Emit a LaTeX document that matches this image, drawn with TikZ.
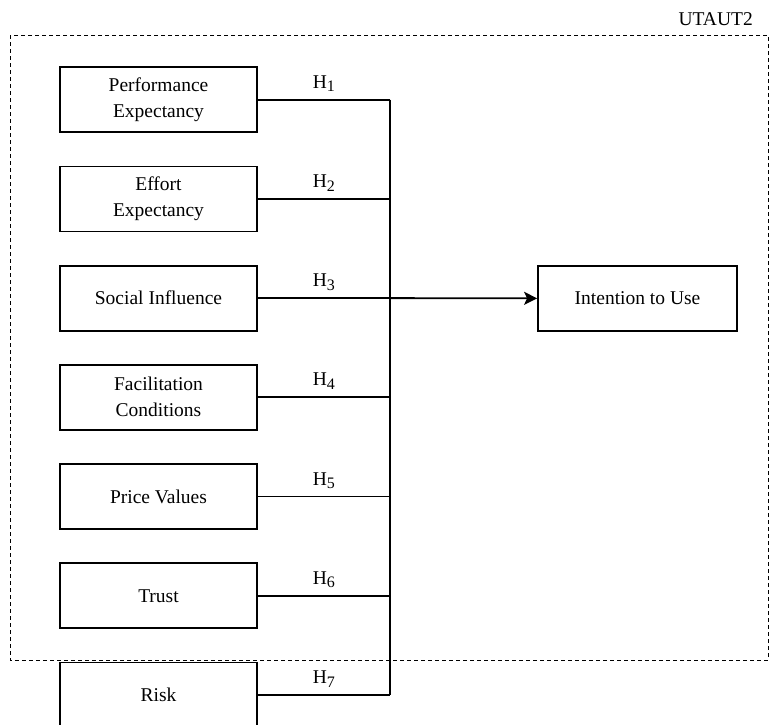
\documentclass[tikz,border=0pt]{standalone}
\usepackage{fontspec}
\setmainfont{Liberation Serif}
\usetikzlibrary{positioning}
\usetikzlibrary{calc}
\usetikzlibrary{arrows.meta}
\newcommand{\hyp}[1]{H\raisebox{-0.4ex}{\fontsize{16}{16}\selectfont #1}}
\tikzset{every picture/.style={line width=1.8pt}}

\begin{document}
\begin{tikzpicture}[x=1pt,y=-1pt,font=\fontsize{19.5}{26}\selectfont,
  fac/.style={draw, minimum width=197pt, minimum height=65pt, align=center, inner sep=0pt}]
\useasboundingbox (0,0) rectangle (770,724);
% UTAUT2 frame
\draw[dashed, line width=1pt, dash pattern=on 4pt off 3pt] (10,35) rectangle (768,660);
\node (ut) [anchor=east] at (757,19) {UTAUT2};
% factors
\foreach \i/\t in {1/{Performance\\Expectancy},2/{Effort\\Expectancy},3/{Social Influence},4/{Facilitation\\Conditions},5/{Price Values},6/{Trust},7/{Risk}} {
\node (b\i) at ($(158.5,0)+\i*(0,99.2)+(0,0.5)$) [fac] {\t};
\coordinate (j\i) at ($(390,0)+\i*(0,99.2)+(0,0.5)$);
\draw (b\i.east) -- (j\i);
\node (h\i) at ($(b\i.east)!0.5!(j\i)+(0,-16)$) {\hyp{\i}};
}
\draw (j1) -- (j7);
\node (itu) at (637.5,298.5) [fac, minimum width=199pt] {Intention to Use};
\draw[-{Stealth[length=13pt,width=13pt,inset=3pt]}] (j3) -- (itu);
\end{tikzpicture}
\end{document}
